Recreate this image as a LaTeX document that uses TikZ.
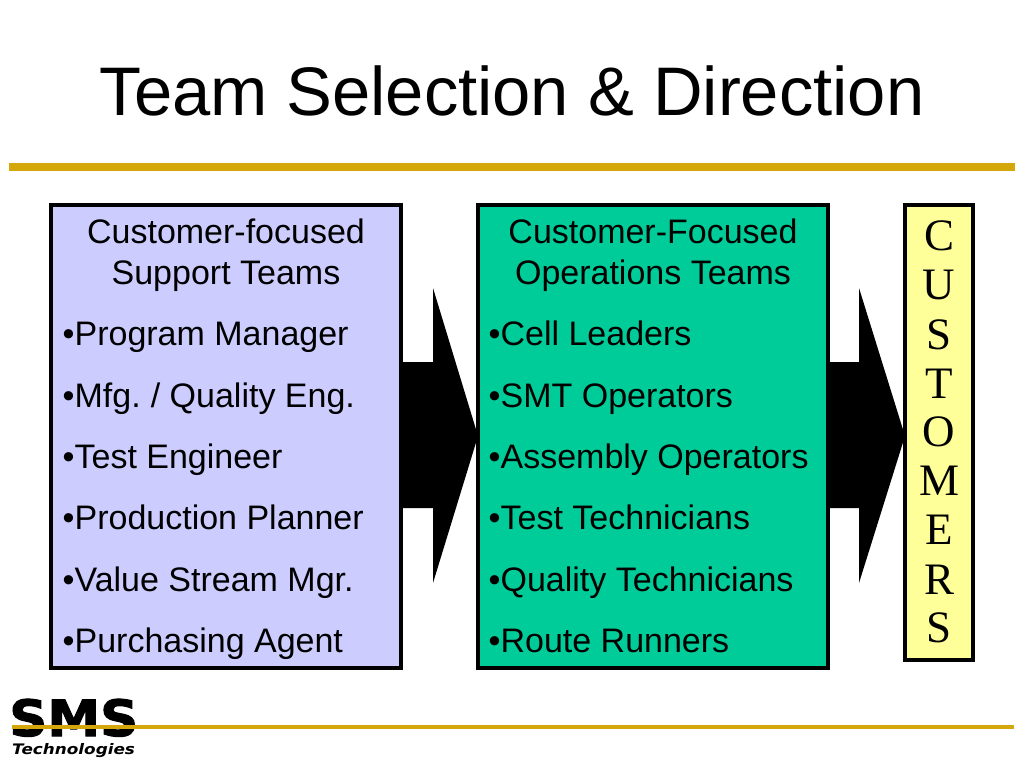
\documentclass[tikz,border=0pt]{standalone}
\usepackage{fontspec}
\setmainfont{Liberation Sans}
\newfontfamily\serifF{Liberation Serif}
\newfontfamily\logoF{DejaVu Sans}
\newfontfamily\smsF[BoldFeatures={FakeBold=2}]{DejaVu Sans}
\definecolor{gold}{HTML}{D4A80C}
\definecolor{lav}{HTML}{CCCCFF}
\definecolor{teal}{HTML}{00CC99}
\definecolor{pale}{HTML}{FFFF99}
\begin{document}
\begin{tikzpicture}[x=1pt,y=-1pt,
 panel/.style={draw=black,line width=4pt,inner sep=0pt,anchor=north west},
 itemtxt/.style={anchor=base west,inner sep=0pt,font=\fontsize{34}{34}\selectfont},
 headtxt/.style={anchor=base,inner sep=0pt,font=\fontsize{34}{34}\selectfont},
 custtxt/.style={anchor=base,inner sep=0pt,font=\serifF\fontsize{45}{45}\selectfont},
 bigarrow/.style={fill=black}]
\useasboundingbox (0,0) rectangle (1024,768);
\fill[white] (0,0) rectangle (1024,768);
\node[anchor=base,inner sep=0pt,font=\fontsize{68.7}{69}\selectfont] (title) at (512,115) {Team Selection \& Direction};
\fill[gold] (9,163) rectangle (1015,171);
% boxes
\node[panel,fill=lav,minimum width=350pt,minimum height=463pt] (a) at (49,203) {};
\node[panel,fill=teal,minimum width=350pt,minimum height=463pt] (b) at (476,203) {};
\node[panel,fill=pale,minimum width=68pt,minimum height=455pt] (c) at (903,203) {};
% arrows
\fill[bigarrow] (403,362) -- (433,362) -- (433,288) -- (478,436) -- (433,583) -- (433,508) -- (403,508) -- cycle;
\fill[bigarrow] (830,362) -- (859,362) -- (859,288) -- (905,436) -- (859,583) -- (859,508) -- (830,508) -- cycle;
% left
\node[headtxt] (l1) at (226,243) {Customer-focused};
\node[headtxt] (l2) at (226,284) {Support Teams};
\node[itemtxt] (l3) at (62.5,345) {•Program Manager};
\node[itemtxt] (l4) at (62.5,407) {•Mfg.\kern-2.5pt{} / Quality Eng.};
\node[itemtxt] (l5) at (62.5,468) {•Test Engineer};
\node[itemtxt] (l6) at (62.5,529) {•Production Planner};
\node[itemtxt] (l7) at (62.5,591) {•Value Stream Mgr.};
\node[itemtxt] (l8) at (62.5,652) {•Purchasing Agent};
% middle
\node[headtxt] (m1) at (653,243) {Customer-Focused};
\node[headtxt] (m2) at (653,284) {Operations Teams};
\node[itemtxt] (m3) at (488.5,345) {•Cell Leaders};
\node[itemtxt] (m4) at (488.5,407) {•SMT Operators};
\node[itemtxt] (m5) at (488.5,468) {•Assembly Operators};
\node[itemtxt] (m6) at (488.5,529) {•Test Technicians};
\node[itemtxt] (m7) at (488.5,591) {•Quality Technicians};
\node[itemtxt] (m8) at (488.5,652) {•Route Runners};
% customers
\foreach \ch/\yy/\nn in {C/250/1,U/299/2,S/349/3,T/398/4,O/446/5,M/495/6,E/544/7,R/594/8,S/642/9}
  \node[custtxt] (c\nn) at (939,\yy) {\ch};
% logo
\node[anchor=base west,inner sep=0pt,font=\smsF\fontsize{50}{50}\bfseries\selectfont,xscale=1.06] (sms) at (9,736) {SMS};
\fill[gold] (12,725) rectangle (1014,729);
\node[anchor=base west,inner sep=0pt,font=\logoF\fontsize{14.5}{15}\bfseries\itshape\selectfont,xscale=1.16] (tech) at (12,754) {Technologies};
\end{tikzpicture}
\end{document}
